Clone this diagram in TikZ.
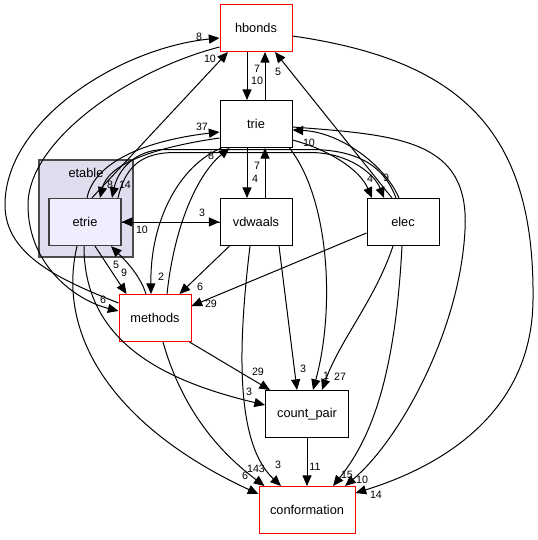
\documentclass[tikz,border=0pt]{standalone}
\usepackage{fontspec}
\setmainfont{Liberation Sans}
\usetikzlibrary{arrows.meta,calc}

\begin{document}
\begin{tikzpicture}[x=0.75pt,y=-0.75pt,>={Triangle[length=8pt,width=6.8pt]},line width=.75pt,
  dirbox/.style={draw,fill=white,minimum width=54pt,minimum height=35.25pt,inner sep=0pt,font=\fontsize{9.6}{11}\selectfont},
  hot/.style={dirbox,draw=red},
  dep/.style={->},
  lbl/.style={inner sep=0pt,font=\fontsize{8}{9}\selectfont}]
\useasboundingbox (0,0) rectangle (538,540);
% etable cluster
\node[draw=black!70,fill={rgb,255:red,221;green,221;blue,238},line width=1pt,minimum width=70.5pt,minimum height=72.75pt] (etable) at (86,208.5) {};
\node[font=\fontsize{9.6}{11}\selectfont] (etabletxt) at (86,173) {etable};
% directories
\node[hot] (hbonds) at (256,28) {hbonds};
\node[dirbox] (trie) at (256,124) {trie};
\node[dirbox,fill={rgb,255:red,238;green,238;blue,255},draw=black!75,line width=1pt] (etrie) at (85,222) {etrie};
\node[dirbox] (vdwaals) at (256,222) {vdwaals};
\node[dirbox] (elec) at (403,222) {elec};
\node[hot] (methods) at (155,318) {methods};
\node[dirbox,minimum width=62.25pt] (countpair) at (307,414) {count\_pair};
\node[hot,minimum width=72pt] (conformation) at (307,510) {conformation};
% hbonds
\draw[dep] ($(hbonds.south)+(-9,0)$) -- ($(trie.north)+(-9,0)$);
\draw[dep] ($(trie.north)+(9,0)$) -- ($(hbonds.south)+(9,0)$);
\draw[dep] ($(hbonds.east)+(0,8)$) .. controls (460,60) and (535,130) .. (533,300) .. controls (532,420) and (430,470) .. ($(conformation.east)+(0,-17)$);
\draw[dep] ($(elec.north)+(-11,0)$) -- ($(hbonds.south)+(19,0)$);
\draw[dep] ($(etrie.north)+(7,0)$) -- ($(hbonds.south)+(-28,0)$);
\draw[dep] ($(methods.west)+(0,-15)$) .. controls (60,280) and (5,255) .. (5,205) .. controls (5,120) and (120,48) .. ($(hbonds.west)+(0,10)$);
\draw[dep] ($(hbonds.west)+(0,19)$) .. controls (130,70) and (28,140) .. (28,205) .. controls (28,265) and (75,300) .. ($(methods.west)+(0,-7)$);
% trie, etrie, elec
\draw[dep] ($(etrie.north)+(2,0)$) .. controls (95,160) and (150,140) .. ($(trie.west)+(0,8)$);
\draw[dep] ($(trie.west)+(0,14)$) .. controls (150,148) and (108,165) .. ($(etrie.north)+(15,0)$);
\draw[dep] ($(elec.north)+(-7,0)$) .. controls (385,168) and (360,149.5) .. (310,149.5) -- (165,149.5) .. controls (135,149.5) and (118,170) .. ($(etrie.north)+(27,0)$);
\draw[dep] ($(etrie.north)+(33,0)$) .. controls (125,168) and (140,152.5) .. (175,152.5) -- (310,152.5) .. controls (350,152.5) and (375,175) .. ($(elec.north)+(-19,0)$);
\draw[dep] ($(trie.east)+(0,16)$) .. controls (330,150) and (360,170) .. ($(elec.north)+(-31,0)$);
\draw[dep] ($(elec.north)+(-4,0)$) .. controls (385,165) and (340,132) .. ($(trie.east)+(0,6)$);
\draw[dep] ($(trie.east)+(0,3)$) .. controls (400,135) and (470,140) .. (465,230) .. controls (460,330) and (400,440) .. ($(conformation.north)+(38,0)$);
\draw[dep] ($(trie.south)+(-9,0)$) -- ($(vdwaals.north)+(-9,0)$);
\draw[dep] ($(vdwaals.north)+(9,0)$) -- ($(trie.south)+(9,0)$);
\draw[dep] (etrie.east) -- (vdwaals.west);
\draw[dep] (vdwaals.west) -- (etrie.east);
% methods
\draw[dep] ($(methods.north)+(12,0)$) .. controls (175,220) and (200,172) .. ($(trie.south west)+(10,0)$);
\draw[dep] ($(trie.south west)+(2,0)$) .. controls (180,165) and (150,220) .. ($(methods.north)+(-4,0)$);
\draw[dep] ($(vdwaals.south west)+(10,0)$) -- ($(methods.north east)+(-12,0)$);
\draw[dep] ($(elec.west)+(0,11)$) -- ($(methods.east)+(0,-12)$);
\draw[dep] ($(etrie.south)+(10,0)$) -- ($(methods.north west)+(8,0)$);
\draw[dep] ($(methods.north)+(-9,0)$) .. controls (140,275) and (125,260) .. ($(etrie.south)+(26,0)$);
% count_pair, conformation
\draw[dep] ($(etrie.south)+(-1,0)$) .. controls (84,340) and (160,380) .. ($(countpair.west)+(0,-9)$);
\draw[dep] ($(etrie.south)+(-8,0)$) .. controls (55,340) and (120,430) .. ($(conformation.west)+(0,-16)$);
\draw[dep] ($(methods.south east)+(-2,0)$) -- ($(countpair.north west)+(5,0)$);
\draw[dep] ($(methods.south)+(8,0)$) .. controls (185,420) and (230,460) .. ($(conformation.north west)+(6,0)$);
\draw[dep] ($(vdwaals.south)+(23,0)$) -- ($(countpair.north)+(-10,0)$);
\draw[dep] ($(vdwaals.south)+(-6,0)$) .. controls (240,330) and (232,440) .. ($(conformation.north)+(-26,0)$);
\draw[dep] ($(trie.south east)+(-3,0)$) .. controls (330,200) and (335,310) .. ($(countpair.north)+(6,0)$);
\draw[dep] ($(elec.south)+(-10,0)$) .. controls (375,300) and (340,340) .. ($(countpair.north)+(15,0)$);
\draw[dep] ($(elec.south)+(-1,0)$) .. controls (395,380) and (370,440) .. ($(conformation.north)+(26,0)$);
\draw[dep] (countpair) -- (conformation);
% edge counts
\foreach \x/\y/\t [count=\i] in {199/37/8, 210/59/10, 257/69/7, 257/81/10, 278/72/5, 202/127/37, 110/185/8, 125/185/14,
  211/156/8, 309/143/10, 370/179/4, 386/178/9, 257/166/7, 255/179/4, 202/213/3, 142/230/10, 116/265/5, 124/273/9,
  161/277/2, 200/287/6, 211/304/29, 103/300/6, 258/372/29, 249/392/3, 303/369/3, 326/376/1, 340/377/27,
  256/469/143, 245/476/6, 278/465/3, 315/467/11, 347/475/15, 362/480/10, 376/495/14}
  \node[lbl] (n\i) at (\x,\y) {\t};
\end{tikzpicture}
\end{document}
